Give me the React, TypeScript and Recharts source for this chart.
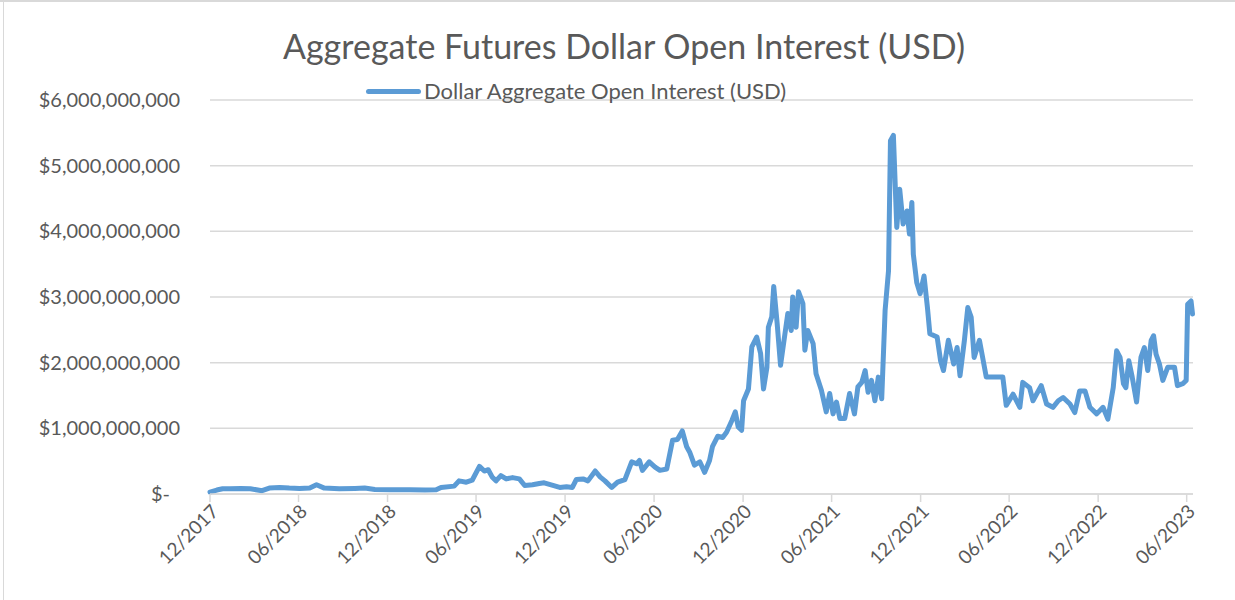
import React from "react";
import { LineChart, Line, XAxis, YAxis, CartesianGrid } from "recharts";

// weekly-ish readings of the aggregate futures dollar open interest, in USD billions
const dates = [
  "2017-12-01", "2017-12-15", "2017-12-27", "2018-01-11", "2018-02-02", "2018-02-22",
  "2018-03-18", "2018-04-02", "2018-04-23", "2018-05-13", "2018-06-03", "2018-06-24",
  "2018-07-08", "2018-07-24", "2018-08-24", "2018-09-25", "2018-10-15", "2018-11-05",
  "2018-12-06", "2019-01-16", "2019-02-16", "2019-03-11", "2019-03-21", "2019-04-17",
  "2019-04-27", "2019-05-12", "2019-05-24", "2019-06-08", "2019-06-18", "2019-06-26",
  "2019-07-04", "2019-07-12", "2019-07-22", "2019-08-02", "2019-08-15", "2019-08-29",
  "2019-09-09", "2019-09-25", "2019-10-09", "2019-10-19", "2019-11-06", "2019-11-20",
  "2019-12-04", "2019-12-16", "2019-12-24", "2020-01-07", "2020-01-17", "2020-02-01",
  "2020-02-11", "2020-02-21", "2020-03-06", "2020-03-18", "2020-04-02", "2020-04-16",
  "2020-04-26", "2020-05-02", "2020-05-08", "2020-05-22", "2020-06-03", "2020-06-13",
  "2020-06-27", "2020-07-09", "2020-07-19", "2020-07-29", "2020-08-07", "2020-08-13",
  "2020-08-23", "2020-09-03", "2020-09-13", "2020-09-23", "2020-09-29", "2020-10-10",
  "2020-10-20", "2020-10-28", "2020-11-08", "2020-11-15", "2020-11-21", "2020-11-28",
  "2020-12-02", "2020-12-12", "2020-12-19", "2020-12-29", "2021-01-06", "2021-01-12",
  "2021-01-19", "2021-01-22", "2021-01-29", "2021-02-02", "2021-02-09", "2021-02-16",
  "2021-02-26", "2021-03-03", "2021-03-10", "2021-03-13", "2021-03-20", "2021-03-25",
  "2021-04-03", "2021-04-07", "2021-04-13", "2021-04-24", "2021-04-30", "2021-05-11",
  "2021-05-21", "2021-05-28", "2021-06-04", "2021-06-11", "2021-06-18", "2021-06-28",
  "2021-07-08", "2021-07-18", "2021-07-25", "2021-08-02", "2021-08-09", "2021-08-15",
  "2021-08-22", "2021-08-29", "2021-09-05", "2021-09-12", "2021-09-19", "2021-09-26",
  "2021-09-30", "2021-10-06", "2021-10-13", "2021-10-19", "2021-10-26", "2021-11-03",
  "2021-11-08", "2021-11-13", "2021-11-16", "2021-11-23", "2021-11-30", "2021-12-08",
  "2021-12-15", "2021-12-20", "2022-01-04", "2022-01-11", "2022-01-17", "2022-01-27",
  "2022-02-07", "2022-02-14", "2022-02-20", "2022-03-01", "2022-03-08", "2022-03-15",
  "2022-03-21", "2022-04-01", "2022-04-15", "2022-04-28", "2022-05-19", "2022-05-26",
  "2022-06-09", "2022-06-23", "2022-06-29", "2022-07-13", "2022-07-20", "2022-08-06",
  "2022-08-17", "2022-08-30", "2022-09-10", "2022-09-20", "2022-10-04", "2022-10-14",
  "2022-10-24", "2022-11-04", "2022-11-14", "2022-11-28", "2022-12-11", "2022-12-21",
  "2023-01-01", "2023-01-08", "2023-01-15", "2023-01-22", "2023-01-27", "2023-02-02",
  "2023-02-09", "2023-02-18", "2023-02-27", "2023-03-06", "2023-03-13", "2023-03-20",
  "2023-03-25", "2023-03-30", "2023-04-06", "2023-04-13", "2023-04-23", "2023-05-07",
  "2023-05-13", "2023-05-24", "2023-05-31", "2023-06-03", "2023-06-10", "2023-06-13",
];

const openInterestBn = [
  0.03, 0.06, 0.08, 0.08, 0.085, 0.08,
  0.05, 0.09, 0.1, 0.09, 0.085, 0.09,
  0.14, 0.09, 0.08, 0.085, 0.09, 0.07,
  0.065, 0.065, 0.06, 0.065, 0.1, 0.12,
  0.2, 0.18, 0.21, 0.42, 0.35, 0.37,
  0.26, 0.2, 0.28, 0.23, 0.25, 0.23,
  0.13, 0.14, 0.16, 0.17, 0.13, 0.1,
  0.11, 0.1, 0.22, 0.23, 0.2, 0.35,
  0.26, 0.2, 0.1, 0.18, 0.22, 0.49,
  0.46, 0.51, 0.36, 0.49, 0.41, 0.36,
  0.38, 0.82, 0.83, 0.96, 0.72, 0.64,
  0.44, 0.49, 0.33, 0.51, 0.72, 0.88,
  0.86, 0.94, 1.12, 1.25, 1.02, 0.97,
  1.42, 1.6, 2.24, 2.39, 2.14, 1.6,
  1.93, 2.54, 2.7, 3.16, 2.6, 1.96,
  2.49, 2.75, 2.49, 3.0, 2.54, 3.08,
  2.9, 2.19, 2.49, 2.29, 1.83, 1.58,
  1.25, 1.53, 1.22, 1.4, 1.15, 1.15,
  1.53, 1.22, 1.63, 1.7, 1.88, 1.55,
  1.73, 1.42, 1.78, 1.45, 2.8, 3.4,
  5.38, 5.46, 4.06, 4.64, 4.11, 4.31,
  3.96, 4.44, 3.65, 3.22, 3.05, 3.32,
  2.84, 2.44, 2.39, 2.03, 1.88, 2.34,
  1.98, 2.23, 1.8, 2.34, 2.84, 2.69,
  2.08, 2.34, 1.78, 1.78, 1.78, 1.35,
  1.52, 1.32, 1.7, 1.62, 1.42, 1.65,
  1.37, 1.32, 1.42, 1.47, 1.37, 1.24,
  1.57, 1.57, 1.32, 1.22, 1.32, 1.14,
  1.62, 2.18, 2.08, 1.68, 1.62, 2.03,
  1.78, 1.4, 2.08, 2.23, 1.88, 2.34,
  2.41, 2.13, 1.98, 1.73, 1.93, 1.93,
  1.65, 1.68, 1.73, 2.89, 2.94, 2.74,
];

const tickDates = [
  "2017-12-01", "2018-06-01", "2018-12-01", "2019-06-01", "2019-12-01", "2020-06-01",
  "2020-12-01", "2021-06-01", "2021-12-01", "2022-06-01", "2022-12-01", "2023-06-01",
];
const tickLabels = [
  "12/2017", "06/2018", "12/2018", "06/2019", "12/2019", "06/2020",
  "12/2020", "06/2021", "12/2021", "06/2022", "12/2022", "06/2023",
];

const yTicks = [0, 1e9, 2e9, 3e9, 4e9, 5e9, 6e9];

const seriesName = "Dollar Aggregate Open Interest (USD)";

const data = dates.map((d, i) => ({
  t: Date.parse(d),
  value: openInterestBn[i] * 1e9,
}));

const xTicks = tickDates.map((d) => Date.parse(d));

const FONT = "Lato, 'Open Sans', sans-serif";
const TEXT = "#595959";
const GRID = "#D9D9D9";
const BLUE = "#5B9BD5";

const fmtY = (v: number) => (v === 0 ? "$-" : "$" + v.toLocaleString("en-US"));

const YTick = (props: any) => {
  const { x, y, payload } = props;
  const isZero = payload.value === 0;
  return (
    <text
      x={x}
      y={y}
      dx={isZero ? -10 : 0}
      dy="0.35em"
      textAnchor="end"
      fill={TEXT}
      fontSize={20}
      fontFamily={FONT}
    >
      {fmtY(payload.value)}
    </text>
  );
};

const XTick = (props: any) => {
  const { x, y, payload } = props;
  const idx = xTicks.indexOf(payload.value);
  const label = idx >= 0 ? tickLabels[idx] : "";
  return (
    <text
      x={x + 5}
      y={y + 4}
      dy="0.35em"
      textAnchor="end"
      transform={`rotate(-45 ${x + 5} ${y + 4})`}
      fill={TEXT}
      fontSize={19}
      fontFamily={FONT}
    >
      {label}
    </text>
  );
};

export default function App() {
  return (
    <div
      style={{
        position: "absolute",
        left: 0,
        top: 0,
        width: 1235,
        height: 600,
        background: "#fff",
        overflow: "hidden",
      }}
    >
      <div style={{ position: "absolute", left: 0, top: 0, width: 1235, height: 2, background: GRID }} />
      <div style={{ position: "absolute", left: 3, top: 0, width: 1, height: 600, background: GRID }} />

      <div
        style={{
          position: "absolute",
          left: 24,
          width: 1200,
          top: 24,
          textAlign: "center",
          fontFamily: FONT,
          fontSize: 34,
          lineHeight: "44px",
          color: TEXT,
        }}
      >
        Aggregate Futures Dollar Open Interest (USD)
      </div>

      <LineChart
        width={1235}
        height={600}
        data={data}
        margin={{ top: 100, right: 42, bottom: 0, left: 0 }}
      >
        <CartesianGrid vertical={false} stroke={GRID} strokeWidth={1.5} />
        <XAxis
          dataKey="t"
          type="number"
          domain={[Date.parse("2017-12-01"), Date.parse("2023-06-14")]}
          ticks={xTicks}
          tick={<XTick />}
          tickSize={8}
          tickMargin={2}
          height={106}
          axisLine={{ stroke: GRID, strokeWidth: 1.5 }}
          tickLine={{ stroke: GRID, strokeWidth: 1.5 }}
          interval={0}
        />
        <YAxis
          type="number"
          domain={[0, 6e9]}
          ticks={yTicks}
          tick={<YTick />}
          width={210}
          tickSize={0}
          tickMargin={30}
          axisLine={false}
          tickLine={false}
          interval={0}
        />
        <Line
          type="linear"
          dataKey="value"
          name={seriesName}
          stroke={BLUE}
          strokeWidth={5}
          strokeLinejoin="round"
          strokeLinecap="round"
          dot={false}
          isAnimationActive={false}
        />
      </LineChart>

      <div style={{ position: "absolute", left: 366, top: 89, width: 55, height: 5, borderRadius: 3, background: BLUE }} />
      <div
        style={{
          position: "absolute",
          left: 424,
          top: 91,
          transform: "translateY(-50%)",
          fontFamily: FONT,
          fontSize: 22,
          lineHeight: "26px",
          color: TEXT,
          whiteSpace: "nowrap",
        }}
      >
        {seriesName}
      </div>
    </div>
  );
}
